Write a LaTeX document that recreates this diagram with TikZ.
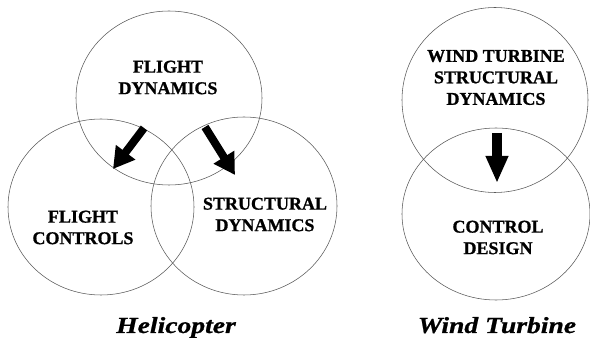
\documentclass[tikz,border=0pt]{standalone}
\usepackage{fontspec}
\setmainfont{Liberation Serif}
\newfontfamily\topicfont[FakeBold=1]{Liberation Serif}
\newfontfamily\captionfont[FakeStretch=1.2,FakeBold=0.8]{Liberation Serif}
\usetikzlibrary{arrows.meta,shapes.geometric}
\begin{document}
\begin{tikzpicture}[x=1pt,y=-1pt,
  ring/.style={draw=black!65, line width=0.55pt, ellipse, inner sep=0pt},
  topic/.style={font=\topicfont\bfseries\fontsize{18}{21.5}\selectfont, align=center, inner sep=0pt},
  caption/.style={font=\captionfont\bfseries\itshape\fontsize{23}{27}\selectfont, inner sep=0pt, anchor=base},
  bigarrow/.style={line width=8pt, -{Triangle[width=23pt,length=21pt]}}]
\useasboundingbox (0,0) rectangle (590,339);
% Helicopter circles
\node[ring, minimum width=186pt, minimum height=174pt] (fdc) at (169,98) {};
\node[ring, minimum width=186pt, minimum height=176pt] (fcc) at (101,207) {};
\node[ring, minimum width=186pt, minimum height=178pt] (sdc) at (244,206) {};
% Wind turbine circles
\node[ring, minimum width=186pt, minimum height=185pt] (wsc) at (495,100) {};
\node[ring, minimum width=188pt, minimum height=172pt] (cdc) at (496,214) {};
% Texts
\node[topic] (fd) at (168,77.5) {FLIGHT\\DYNAMICS};
\node[topic] (fc) at (83,227.5) {FLIGHT\\CONTROLS};
\node[topic] (sd) at (265,214.5) {STRUCTURAL\\DYNAMICS};
\node[topic] (ws) at (496,77.5) {WIND TURBINE\\STRUCTURAL\\DYNAMICS};
\node[topic] (cd) at (498,237.5) {CONTROL\\DESIGN};
\node[caption] (heli) at (176,333) {Helicopter};
\node[caption] (wind) at (497,333) {Wind Turbine};
% Arrows
\coordinate (a1s) at (144,128);
\coordinate (a1e) at (113,169);
\coordinate (a2s) at (205,127);
\coordinate (a2e) at (235,175);
\coordinate (a3s) at (497,133);
\coordinate (a3e) at (497,183);
\draw[bigarrow] (a1s) -- (a1e);
\draw[bigarrow] (a2s) -- (a2e);
\draw[line width=10pt, -{Triangle[width=21pt,length=27pt]}] (a3s) -- (a3e);
\end{tikzpicture}
\end{document}
